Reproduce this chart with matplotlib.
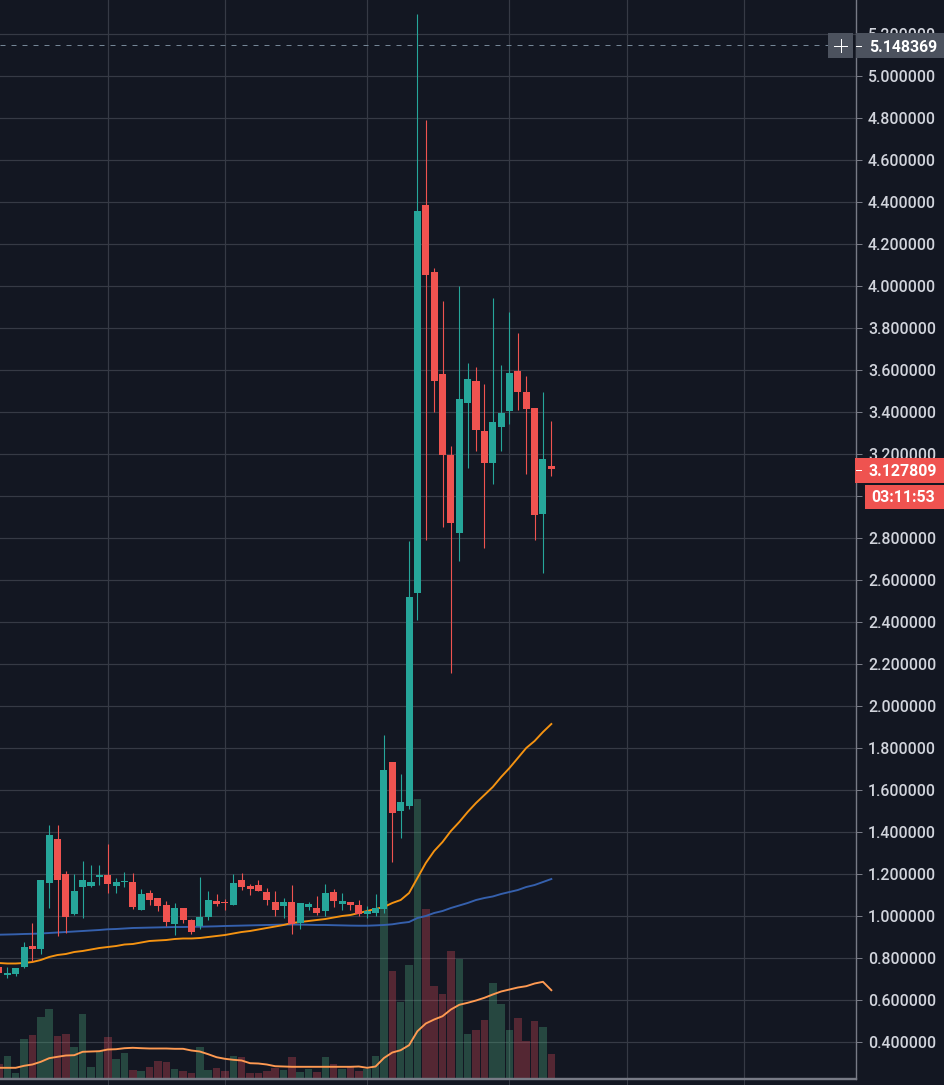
"""Candlestick chart with volume and moving averages, dark trading theme."""

import matplotlib
matplotlib.use("Agg")
import matplotlib.pyplot as plt
from matplotlib.patches import Rectangle
from matplotlib.transforms import Affine2D

# Candles, oldest first (first candle is cut by the left edge)
opens = [.7586, .7205, .7252, .7586, .8586, .8443, 1.1585, 1.3680, 1.2014, 1.0109,
         1.1395, 1.1442, 1.1871, 1.1966, 1.1442, 1.1633, 1.1633, 1.0300, 1.1109, 1.0871,
         1.0538, .9633, 1.0395, .9824, .9538, .9966, 1.0728, 1.0681, 1.0538, 1.1728,
         1.1442, 1.1490, 1.1157, 1.0681, 1.0490, 1.0681, .9680, 1.0443, 1.0395, 1.0252,
         1.1157, 1.0585, 1.0681, 1.0538, 1.0109, 1.0157, 1.0348, 1.7347, 1.5014, 1.5252,
         2.5395, 4.3871, 4.0681, 3.5824, 3.1967, 2.8252, 3.4443, 3.5490, 3.3109, 3.1586,
         3.3300, 3.4062, 3.5967, 3.4967, 3.4205, 2.9157, 3.1443]
highs = [.7586, .7586, .7538, .8776, .9680, 1.1728, 1.4347, 1.4347, 1.2157, 1.2014,
         1.2633, 1.2442, 1.2442, 1.3442, 1.1823, 1.2109, 1.2062, 1.1300, 1.1252, 1.0871,
         1.0728, 1.0633, 1.0395, .9871, 1.1871, 1.1204, 1.1062, 1.0823, 1.2014, 1.2062,
         1.1538, 1.1728, 1.1347, 1.1204, 1.0871, 1.1490, 1.0633, 1.0681, 1.0966, 1.1538,
         1.1300, 1.1109, 1.0681, 1.0776, 1.0490, 1.1062, 1.8633, 1.7347, 1.6776, 2.7871,
         5.2966, 4.7919, 4.0871, 3.9300, 3.2395, 4.0014, 3.6348, 3.6157, 3.5348, 3.9443,
         3.6252, 3.8776, 3.7776, 3.5729, 3.4205, 3.4967, 3.3586]
lows = [.7300, .7062, .7157, .7538, .7871, .8205, 1.0395, .9062, .9204, 1.0062,
        .9919, 1.1395, 1.1490, 1.1109, 1.1109, 1.1395, 1.0348, 1.0300, 1.0538, 1.0252,
        .9538, .9109, .9680, .9157, .9395, .9824, 1.0490, 1.0300, 1.0538, 1.1252,
        1.1014, 1.1204, 1.0538, 1.0014, .9919, .9157, .9395, 1.0300, 1.0062, 1.0014,
        1.0443, 1.0300, 1.0300, 1.0014, .9919, 1.0014, 1.0157, 1.2585, 1.3728, 1.5109,
        2.4109, 2.7919, 3.4014, 2.8538, 2.1586, 2.6919, 3.1348, 3.2157, 2.7538, 3.0586,
        3.2157, 3.3443, 3.4109, 3.1062, 2.7919, 2.6348, 3.0967]
closes = [.7300, .7300, .7538, .8538, .8443, 1.1728, 1.3871, 1.1728, .9966, 1.1204,
          1.1728, 1.1633, 1.1966, 1.1538, 1.1633, 1.1681, 1.0443, 1.1062, 1.0776, 1.0490,
          .9728, 1.0395, .9824, .9252, .9966, 1.0776, 1.0585, 1.0633, 1.1585, 1.1395,
          1.1300, 1.1204, 1.0776, 1.0300, 1.0681, .9633, 1.0633, 1.0585, 1.0157, 1.1109,
          1.0728, 1.0728, 1.0538, 1.0109, 1.0252, 1.0395, 1.6967, 1.4919, 1.5443, 2.5204,
          4.3586, 4.0538, 3.5490, 3.1967, 2.8729, 3.4633, 3.5586, 3.3157, 3.1586, 3.3538,
          3.3967, 3.5871, 3.4967, 3.4157, 2.9109, 3.1776, 3.127809]

# Volume, arbitrary units
volumes = [14.7, 22.7, 5.7, 39.7, 43.7, 61.7, 69.7, 42.7, 44.7, 31.7,
           64.7, 11.7, 27.7, 41.7, 19.7, 25.7, 8.7, 7.7, 11.7, 17.7,
           16.7, 9.7, 7.7, 5.7, 31.7, 8.7, 10.7, 7.7, 22.7, 21.7,
           5.7, 5.7, 7.7, 10.7, 8.7, 21.7, 6.7, 9.7, 6.7, 21.7,
           14.7, 9.7, 11.7, 7.7, 9.7, 22.7, 178, 108, 77, 114,
           280, 170, 93, 85, 128, 120, 45, 49, 59, 96,
           75, 49, 61, 38, 58, 52, 25]
volume_ma = [10.7, 10.7, 10.7, 12.7, 14, 16.7, 20.3, 21.7, 23, 23.3,
             26.7, 27, 27.3, 29, 29.3, 30.3, 30.7, 30.3, 30, 30,
             30, 29.7, 29.7, 28, 27, 24.3, 21.3, 19.7, 18.7, 18,
             15.3, 15, 14, 12.3, 12, 11.7, 11.7, 11.7, 11.7, 11.7,
             11.7, 11.7, 11.7, 12, 10.7, 12, 20.5, 26, 28.3, 33.3,
             47.3, 55, 59, 62.3, 69, 73.7, 75.7, 78, 80.7, 84,
             87, 89, 91, 92.3, 95, 96.7, 88.3]

# Moving averages on price
ma_fast = [.7776, .7752, .7752, .7776, .7823, .7919, .8062, .8157, .8205, .8300,
           .8348, .8419, .8490, .8538, .8585, .8657, .8681, .8752, .8824, .8848,
           .8871, .8919, .8943, .8943, .8966, .9014, .9062, .9109, .9181, .9252,
           .9300, .9371, .9443, .9514, .9585, .9681, .9728, .9776, .9824, .9871,
           .9943, 1.0014, 1.0062, 1.0157, 1.0252, 1.0348, 1.0443, 1.0633, 1.0776, 1.1109,
           1.1823, 1.2538, 1.3109, 1.3538, 1.4062, 1.4490, 1.4966, 1.5395, 1.5776, 1.6157,
           1.6633, 1.7062, 1.7538, 1.8014, 1.8348, 1.8776, 1.9157]
ma_slow = [.9124, .9133, .9143, .9157, .9167, .9181, .9205, .9229, .9252, .9276,
           .9300, .9324, .9348, .9381, .9395, .9419, .9443, .9452, .9462, .9471,
           .9481, .9490, .9490, .9500, .9505, .9514, .9524, .9538, .9548, .9557,
           .9567, .9576, .9586, .9595, .9605, .9610, .9605, .9595, .9586, .9586,
           .9576, .9567, .9557, .9552, .9552, .9567, .9586, .9619, .9681, .9728,
           .9919, 1.0014, 1.0157, 1.0252, 1.0395, 1.0514, 1.0633, 1.0776, 1.0871, 1.0943,
           1.1062, 1.1157, 1.1252, 1.1395, 1.1490, 1.1633, 1.1776]

price_ticks = [0.4, 0.6, 0.8, 1.0, 1.2, 1.4, 1.6, 1.8, 2.0, 2.2, 2.4, 2.6, 2.8,
               3.0, 3.2, 3.4, 3.6, 3.8, 4.0, 4.2, 4.4, 4.6, 4.8, 5.0, 5.2]
time_ticks = [13, 27, 44, 61, 75, 89]
crosshair_price = 5.148369
crosshair_label = "5.148369"
last_label = "3.127809"
countdown_label = "03:11:53"

W, H = 944, 1085
BG_COLOR = "#131722"
GRID_COLOR = "#363a45"
AXIS_COLOR = "#787b86"
TEXT_COLOR = "#d1d4dc"
UP_COLOR = "#26a69a"
DOWN_COLOR = "#ef5350"
VOL_UP = "#53b987"
VOL_DOWN = "#eb4d5c"
FONT = "Roboto"
PX = 0.72  # one pixel in points at dpi 100

plt.rcParams["font.family"] = [FONT, "DejaVu Sans"]
plt.rcParams["font.weight"] = "medium"

fig = plt.figure(figsize=(W / 100, H / 100), dpi=100, facecolor=BG_COLOR)
rect = [0, (H - 1078.5) / H, 855.5 / W, 1078.5 / H]

# volume axes sit at the back, the price axes on top of them
vol_ax = fig.add_axes(rect, facecolor=BG_COLOR)
price_ax = vol_ax.twinx()
price_ax.patch.set_visible(False)

xs = list(range(len(closes)))
up = [c >= o for o, c in zip(opens, closes)]

vol_ax.set_xlim(0.128, 102.34)
vol_ax.set_ylim(0, 1078.5)
price_ax.set_ylim(0.2276, 5.3633)

# grid
vol_ax.set_xticks(time_ticks)
vol_ax.set_xticklabels([])
vol_ax.grid(axis="x", color=GRID_COLOR, linewidth=PX * 1.2, zorder=0)
vol_ax.set_axisbelow(True)
vol_ax.set_yticks([])
for t in price_ticks:
    vol_ax.plot([0, 1], [t, t], color=GRID_COLOR, linewidth=PX * 1.2, zorder=0.5,
                transform=price_ax.get_yaxis_transform())
vol_ax.tick_params(axis="x", length=6.5 * PX, color=GRID_COLOR, width=PX)

# volume
vol_colors = [VOL_UP if u else VOL_DOWN for u in up]
vol_ax.bar(xs, volumes, width=0.9, color=vol_colors, alpha=0.3, linewidth=0, zorder=2)
vol_ax.plot(xs, volume_ma, color="#ff9a52", linewidth=PX * 1.9, zorder=3)

# moving averages
price_ax.plot(xs, ma_slow, color="#3560ad", linewidth=PX * 1.9, zorder=1)
price_ax.plot(xs, ma_fast, color="#f59311", linewidth=PX * 1.9, zorder=1)

# candles
colors = [UP_COLOR if u else DOWN_COLOR for u in up]
price_ax.vlines(xs, lows, highs, color=colors, linewidth=PX * 1.1, zorder=2)
price_ax.bar(xs, [abs(c - o) for o, c in zip(opens, closes)],
             bottom=[min(o, c) for o, c in zip(opens, closes)],
             width=0.84, color=colors, linewidth=0, zorder=3)

# crosshair
price_ax.axhline(crosshair_price, color="#758696", linewidth=PX,
                 dashes=(5, 6), zorder=4)

# axes frame
for ax in (vol_ax, price_ax):
    ax.spines["top"].set_visible(False)
    ax.spines["left"].set_visible(False)
    ax.spines["right"].set_color(AXIS_COLOR)
    ax.spines["right"].set_linewidth(PX * 1.2)
    ax.spines["bottom"].set_color(AXIS_COLOR)
    ax.spines["bottom"].set_linewidth(PX * 2.2)

price_ax.set_yticks(price_ticks)
price_ax.set_yticklabels(["%.6f" % t for t in price_ticks])
price_ax.tick_params(axis="y", length=6 * PX, width=PX, color=AXIS_COLOR,
                     labelcolor=TEXT_COLOR, labelsize=11.4, pad=6.5 * PX)

# overlay boxes in pixel coordinates, y going down
px = Affine2D().scale(1 / W, -1 / H).translate(0, 1) + fig.transFigure


def box(x, y, w, h, color):
    fig.add_artist(Rectangle((x, y), w, h, transform=px, facecolor=color,
                             edgecolor="none", zorder=5))


def label(x, y, text):
    fig.text(x, y, text, transform=px, color="white", fontsize=11.4, ha="left",
             va="center_baseline", zorder=7, fontweight="bold")


def stroke(x0, y0, x1, y1, color="white"):
    fig.add_artist(plt.Line2D([x0, x1], [y0, y1], transform=px, color=color,
                              linewidth=PX, zorder=6))


# crosshair labels and the little plus button
box(828, 33, 25, 25, "#4c525e")
stroke(834, 45.5, 847, 45.5)
stroke(840.5, 39, 840.5, 52)
box(856, 33, 88, 25, "#4c525e")
stroke(856, 45.5, 861, 45.5)
label(868.7, 45.5, crosshair_label)

# last price and countdown
box(855, 458, 89, 25, DOWN_COLOR)
stroke(856, 470, 861, 470)
label(868.7, 470.5, last_label)
box(865, 484.5, 79, 24.5, DOWN_COLOR)
label(871, 496.5, countdown_label)

fig.savefig("out.png", dpi=100, facecolor=BG_COLOR)
plt.close(fig)
